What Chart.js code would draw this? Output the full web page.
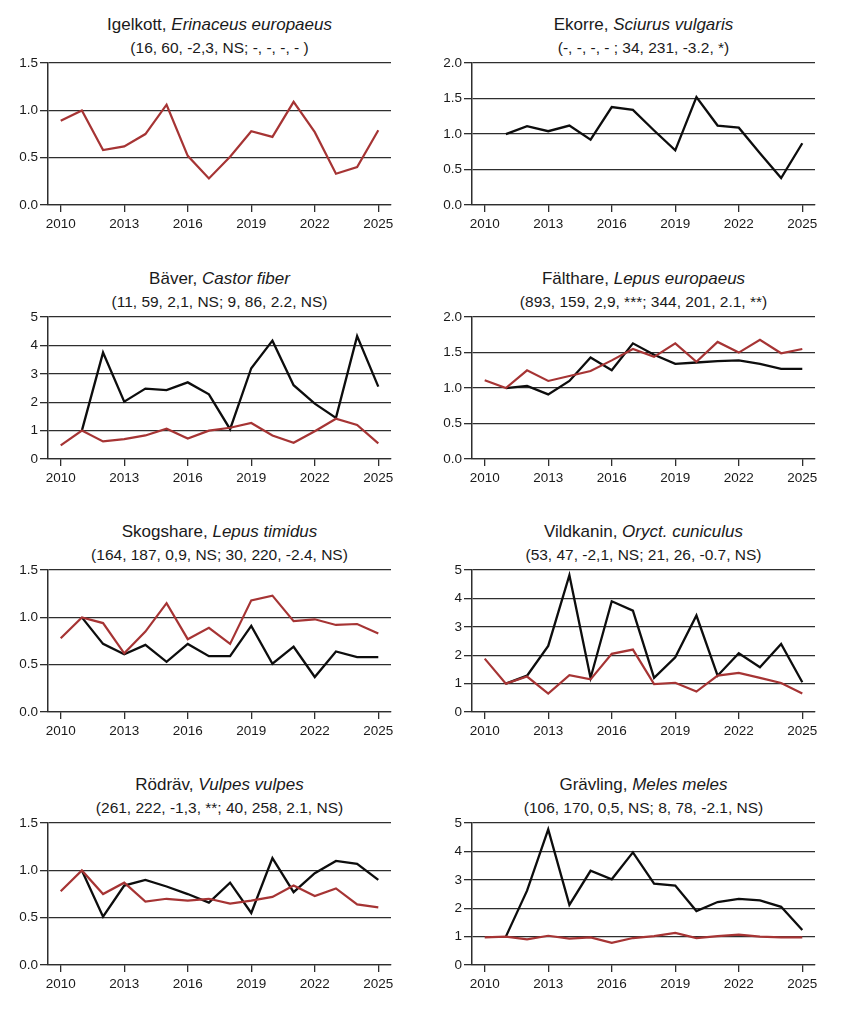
<!DOCTYPE html>
<html><head><meta charset="utf-8">
<script src="https://cdn.jsdelivr.net/npm/chart.js@4/dist/chart.umd.min.js"></script>
<style>
body{margin:0;background:#fff;}
#wrap{position:relative;width:848px;height:1013px;overflow:hidden;font-family:"Liberation Sans",Arial,sans-serif;color:#1a1a1a;background:#fff;}
.t1,.t2{position:absolute;width:343px;text-align:center;line-height:20px;white-space:nowrap;}
.t1{font-size:17px;}
.t2{font-size:15.5px;}
canvas{position:absolute;}
</style></head><body><div id="wrap"></div>
<script>
// ---- data ----
const years = [2010,2011,2012,2013,2014,2015,2016,2017,2018,2019,2020,2021,2022,2023,2024,2025];
const tickYears = [2010,2013,2016,2019,2022,2025];

const igelkottRed   = [0.89,1.00,0.58,0.62,0.75,1.06,0.52,0.28,0.51,0.78,0.72,1.09,0.77,0.33,0.40,0.79];
const igelkottBlack = [null,null,null,null,null,null,null,null,null,null,null,null,null,null,null,null];

const ekorreRed   = [null,null,null,null,null,null,null,null,null,null,null,null,null,null,null,null];
const ekorreBlack = [null,1.00,1.11,1.04,1.12,0.92,1.38,1.34,1.05,0.77,1.52,1.12,1.09,0.73,0.38,0.87];

const baverRed   = [0.48,1.00,0.62,0.70,0.83,1.07,0.72,1.00,1.10,1.27,0.83,0.57,0.98,1.42,1.20,0.55];
const baverBlack = [null,1.00,3.75,2.02,2.48,2.43,2.70,2.28,1.05,3.20,4.17,2.60,1.95,1.45,4.33,2.55];

const falthareRed   = [1.11,1.00,1.25,1.10,1.17,1.24,1.39,1.55,1.44,1.63,1.37,1.65,1.50,1.68,1.49,1.55];
const falthareBlack = [null,1.00,1.03,0.91,1.10,1.43,1.25,1.63,1.47,1.34,1.36,1.38,1.39,1.34,1.27,1.27];

const skogshareRed   = [0.78,1.00,0.94,0.62,0.85,1.15,0.77,0.89,0.72,1.18,1.23,0.96,0.98,0.92,0.93,0.83];
const skogshareBlack = [null,1.00,0.72,0.61,0.71,0.53,0.72,0.59,0.59,0.91,0.51,0.69,0.37,0.64,0.58,0.58];

const vildkaninRed   = [1.88,1.00,1.25,0.65,1.30,1.15,2.05,2.20,0.98,1.03,0.72,1.28,1.38,1.20,1.02,0.65];
const vildkaninBlack = [null,1.00,1.28,2.33,4.82,1.20,3.90,3.57,1.20,1.93,3.40,1.28,2.07,1.58,2.40,1.05];

const rodravRed   = [0.78,1.00,0.75,0.87,0.67,0.70,0.68,0.70,0.65,0.68,0.72,0.84,0.73,0.81,0.64,0.61];
const rodravBlack = [null,1.00,0.51,0.84,0.90,0.83,0.75,0.66,0.87,0.55,1.13,0.77,0.97,1.10,1.07,0.90];

const gravlingRed   = [0.97,1.00,0.90,1.03,0.93,0.97,0.78,0.95,1.02,1.13,0.95,1.02,1.07,1.00,0.97,0.97];
const gravlingBlack = [null,1.00,2.62,4.78,2.12,3.32,3.02,3.97,2.87,2.80,1.90,2.22,2.33,2.28,2.05,1.23];

const commonNames = ["Igelkott","Ekorre","Bäver","Fälthare","Skogshare","Vildkanin","Rödräv","Grävling"];
const latinNames  = ["Erinaceus europaeus","Sciurus vulgaris","Castor fiber","Lepus europaeus","Lepus timidus","Oryct. cuniculus","Vulpes vulpes","Meles meles"];
const statLines   = ["(16, 60, -2,3, NS; -, -, -, - )","(-, -, -, - ; 34, 231, -3.2, *)","(11, 59, 2,1, NS; 9, 86, 2.2, NS)","(893, 159, 2,9, ***; 344, 201, 2.1, **)","(164, 187, 0,9, NS; 30, 220, -2.4, NS)","(53, 47, -2,1, NS; 21, 26, -0.7, NS)","(261, 222, -1,3, **; 40, 258, 2.1, NS)","(106, 170, 0,5, NS; 8, 78, -2.1, NS)"];
const redSeries   = [igelkottRed,ekorreRed,baverRed,falthareRed,skogshareRed,vildkaninRed,rodravRed,gravlingRed];
const blackSeries = [igelkottBlack,ekorreBlack,baverBlack,falthareBlack,skogshareBlack,vildkaninBlack,rodravBlack,gravlingBlack];
const yMaxes = [1.5,2.0,5,2.0,1.5,5,1.5,5];
const ySteps = [0.5,0.5,1,0.5,0.5,1,0.5,1];

// ---- layout / style ----
const RED = '#a63434', BLACK = '#0d0d0d', GRID = '#2e2e2e', TXT = '#1a1a1a';
const FAMILY = '"Liberation Sans", Arial, sans-serif';
const rowTops = [63, 317, 570, 823];
const colW = 424, plotLeft = 48, plotRight = 391, plotH = 142, padTop = 10, xAxisH = 40;

const wrap = document.getElementById('wrap');
function pts(arr){ return years.map((yr,i)=>({x:yr,y:arr[i]})).filter(p=>p.y!==null); }

for (let i=0;i<8;i++){
  const col = i%2, row = Math.floor(i/2);
  const T = rowTops[row], L = col*colW;
  const t1 = document.createElement('div');
  t1.className='t1';
  t1.style.left=(L+plotLeft)+'px'; t1.style.top=(T-48)+'px';
  t1.innerHTML = commonNames[i] + ', <i>' + latinNames[i] + '</i>';
  const t2 = document.createElement('div');
  t2.className='t2';
  t2.style.left=(L+plotLeft)+'px'; t2.style.top=(T-25)+'px';
  t2.textContent = statLines[i];
  wrap.appendChild(t1); wrap.appendChild(t2);

  const cv = document.createElement('canvas');
  const H = padTop + plotH + xAxisH;
  cv.width = colW; cv.height = H;
  cv.style.width = colW+'px'; cv.style.height = H+'px';
  cv.style.left = L+'px'; cv.style.top = (T-padTop)+'px';
  wrap.appendChild(cv);

  const yMax = yMaxes[i], yStep = ySteps[i];
  new Chart(cv, {
    type:'line',
    data:{datasets:[
      {data:pts(redSeries[i]), borderColor:RED, borderWidth:2.2, pointRadius:0, tension:0, fill:false},
      {data:pts(blackSeries[i]), borderColor:BLACK, borderWidth:2.3, pointRadius:0, tension:0, fill:false}
    ]},
    options:{
      responsive:false, animation:false, devicePixelRatio:1,
      layout:{padding:{top:padTop,right:colW-plotRight,left:0,bottom:0}},
      plugins:{legend:{display:false},tooltip:{enabled:false},title:{display:false}},
      scales:{
        x:{type:'linear', min:2009.4, max:2025.6,
          afterBuildTicks:s=>{ s.ticks = tickYears.map(v=>({value:v})); },
          afterFit:s=>{ s.height = xAxisH; },
          grid:{drawOnChartArea:false, drawTicks:true, tickLength:7, color:GRID, lineWidth:1.3},
          border:{display:true, color:GRID, width:1.3},
          ticks:{callback:v=>String(v), font:{size:13.5, family:FAMILY}, color:TXT, padding:4, maxRotation:0, autoSkip:false}
        },
        y:{min:0, max:yMax,
          afterBuildTicks:s=>{ const t=[]; for(let k=0;k<=Math.round(yMax/yStep);k++) t.push({value:+(k*yStep).toFixed(2)}); s.ticks=t; },
          afterFit:s=>{ s.width = plotLeft; },
          grid:{color:GRID, lineWidth:1.3, tickLength:8, drawTicks:true},
          border:{display:true, color:GRID, width:1.5},
          ticks:{callback:v=> yStep<1 ? v.toFixed(1) : String(v), font:{size:13.5, family:FAMILY}, color:TXT, padding:2}
        }
      }
    }
  });
}
</script></body></html>
